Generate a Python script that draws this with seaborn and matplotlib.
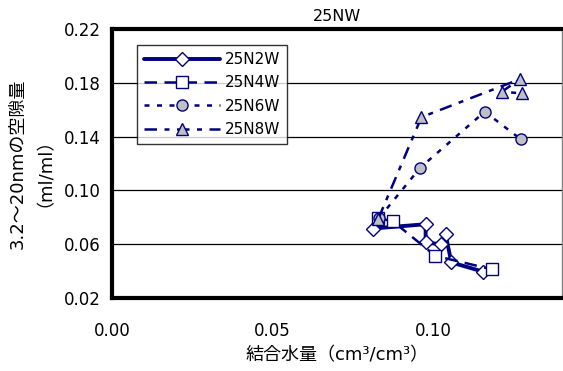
import matplotlib
matplotlib.use("Agg")
import matplotlib.pyplot as plt
import numpy as np
import pandas as pd
import seaborn as sns

# data
n2w_x = [0.0811, 0.0976, 0.0976, 0.1025, 0.1038, 0.1056, 0.1155]
n2w_y = [0.0716, 0.0748, 0.0613, 0.0598, 0.0674, 0.0464, 0.0395]
n4w_x = [0.0828, 0.0874, 0.1006, 0.1181]
n4w_y = [0.0793, 0.0770, 0.0513, 0.0413]
n6w_x = [0.0831, 0.0959, 0.1160, 0.1273]
n6w_y = [0.0793, 0.1168, 0.1585, 0.1378]
n8w_x = [0.0829, 0.0963, 0.1270, 0.1213, 0.1276]
n8w_y = [0.0790, 0.1544, 0.1827, 0.1733, 0.1721]
labels = ['25N2W', '25N4W', '25N6W', '25N8W']

sns.set_style("white")
plt.rcParams['font.family'] = ['DejaVu Sans', 'Noto Sans CJK JP']
plt.rcParams['text.color'] = 'black'
plt.rcParams['axes.labelcolor'] = 'black'
plt.rcParams['xtick.color'] = 'black'
plt.rcParams['ytick.color'] = 'black'

navy = '#000080'
fig = plt.figure(figsize=(5.63, 3.71), dpi=100)
ax = fig.add_axes([0.199, 0.197, 0.799, 0.725])

styles = [
    dict(marker='D', mfc='white', ms=7, lw=2.8, ls='-'),
    dict(marker='s', mfc='white', ms=8, lw=1.8, dashes=(5, 3)),
    dict(marker='o', mfc='#c0c0c0', ms=8, lw=1.8, dashes=(2, 3)),
    dict(marker='^', mfc='#c0c0c0', ms=9, lw=1.8, dashes=(5, 3, 2, 3)),
]
series = [(n2w_x, n2w_y), (n4w_x, n4w_y), (n6w_x, n6w_y), (n8w_x, n8w_y)]
for (xs, ys), lab, st in zip(series, labels, styles):
    df = pd.DataFrame({'x': xs, 'y': ys})
    st = dict(st)
    ls = st.pop('ls', None)
    dashes = st.pop('dashes', None)
    kw = dict(color=navy, mec=navy, mew=1.0, label=lab, **st)
    if ls is not None:
        kw['linestyle'] = ls
    sns.lineplot(data=df, x='x', y='y', sort=False, ax=ax, estimator=None, **kw)
    if dashes is not None:
        ax.lines[-1].set_dashes(dashes)

ax.set_xlim(0, 0.14)
ax.set_ylim(0.02, 0.22)
ax.set_xticks([0.0, 0.05, 0.10])
ax.set_xticklabels(['0.00', '0.05', '0.10'])
ax.set_yticks(np.arange(0.02, 0.2201, 0.04))
ax.set_yticklabels(['0.02', '0.06', '0.10', '0.14', '0.18', '0.22'])
ax.tick_params(axis='both', direction='in', length=5, labelsize=12)
ax.tick_params(axis='y', length=0, pad=8)
ax.tick_params(axis='x', pad=17)
ax.grid(axis='y', color='black', lw=0.9)
ax.grid(axis='x', visible=False)

for side in ['left', 'top', 'bottom']:
    ax.spines[side].set_linewidth(3)
    ax.spines[side].set_color('black')
ax.spines['right'].set_linewidth(1)
ax.spines['right'].set_color('#808080')

ax.set_title('25NW', fontsize=11.5, pad=6)
ax.set_xlabel('結合水量（cm³/cm³）', fontsize=13, labelpad=5)
ax.set_ylabel('3.2～20nmの空隙量\n（ml/ml）', fontsize=13, labelpad=14, linespacing=1.0)

leg = ax.legend(loc='upper left', bbox_to_anchor=(0.055, 0.94), borderaxespad=0,
                handlelength=5, fontsize=11, frameon=True, fancybox=False,
                edgecolor='black', borderpad=0.45, labelspacing=0.55, handletextpad=0.3)
leg.get_frame().set_linewidth(1)

fig.savefig('out.png', dpi=100)
